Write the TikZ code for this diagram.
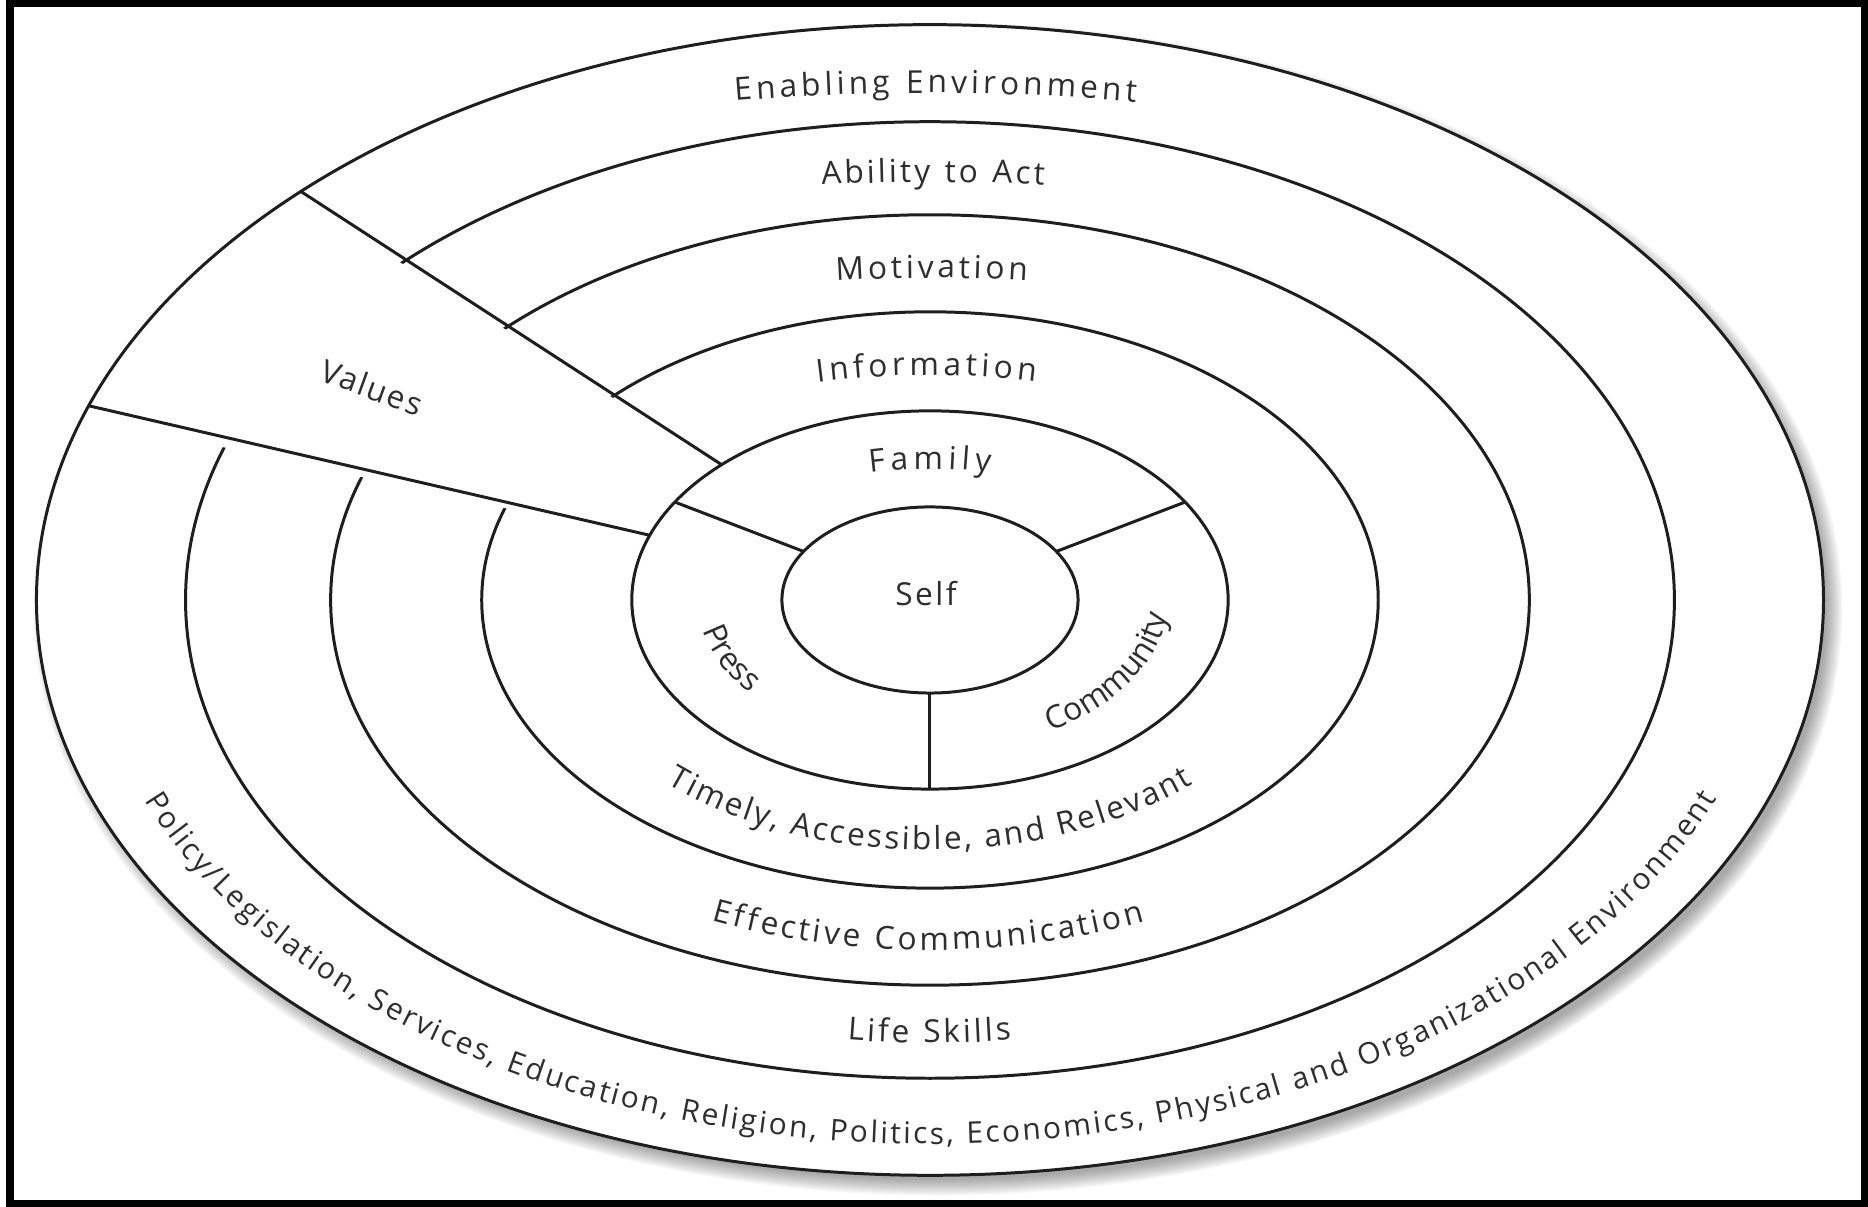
\documentclass[tikz,border=0pt]{standalone}
\usepackage{fontspec}
\setmainfont{Open Sans}
\usetikzlibrary{shapes.geometric,decorations.text}
\definecolor{linec}{HTML}{1E1E1E}
\definecolor{txtc}{HTML}{2E2E2E}
\newcommand\lblfont{\fontsize{9}{10}\selectfont\color{txtc}}
\newcommand\lblfontsm{\fontsize{8.5}{10}\selectfont\color{txtc}}
\begin{document}
\begin{tikzpicture}[x=0.01cm,y=0.01cm,
  ring/.style 2 args={ellipse, draw=linec, line width=0.85pt, inner sep=0pt, outer sep=0pt, minimum width=#1, minimum height=#2},
  sep/.style={draw=linec, line width=0.85pt},
  arclabel/.style={decorate, decoration={text along path, text={|\lblfont|#1}, text align={fit to path}}},
  arclabelsm/.style={decorate, decoration={text along path, text={|\lblfontsm|#1}, text align={fit to path}}},
  arclabelc/.style={decorate, decoration={text along path, text={|\lblfont|#1}, text align=center}},
  plainlbl/.style={text=txtc, inner sep=0pt},
]
\useasboundingbox (-930,-607) rectangle (938,600);
% frame
\draw[line width=2pt, black] (-920,-604) rectangle (935,596.5);
% soft shadow of the outer ellipse
\foreach \k in {0,...,9}
  \fill[black, opacity=0.04] (8,-9) ellipse [x radius={889+\k*1.7}, y radius={571+\k*1.7}];
\fill[white] (0,0) ellipse [x radius=893, y radius=575];
% interrupted rings
\node[ring={14.88cm}{9.56cm}] (abl) at (0,0) {};
\node[ring={11.98cm}{7.70cm}] (mot) at (0,0) {};
\node[ring={8.96cm}{5.76cm}] (inf) at (0,0) {};
% values wedge
\begin{scope}
  \clip (0,0) ellipse [x radius=890, y radius=572];
  \fill[white] (0,0) -- (147.5:1200) -- (167.8:1200) -- cycle;
\end{scope}
% complete rings
\node[ring={17.86cm}{11.5cm}] (env) at (0,0) {};
\node[ring={5.96cm}{3.78cm}] (fam) at (0,0) {};
\node[ring={2.96cm}{1.86cm}] (slf) at (0,0) {};
% radial separators
\draw[sep] (env.147.5) -- (fam.147.5);
\draw[sep] (env.167.8) -- (fam.167.8);
\draw[sep] (fam.159.5) -- (slf.159.5);
\draw[sep] (fam.21) -- (slf.21);
\draw[sep] (fam.south) -- (slf.south);
% top labels
\path[arclabel={Enabling Environment}] (100.2:1100 and 507) arc[start angle=100.2, end angle=79.2, x radius=1100, y radius=507];
\path[arclabel={Ability to Act}] (96.9:900 and 418) arc[start angle=96.9, end angle=82.7, x radius=900, y radius=418];
\path[arclabel={Motivation}] (97.7:700 and 322) arc[start angle=97.7, end angle=82.0, x radius=700, y radius=322];
\path[arclabel={Information}] (104.5:450 and 225) arc[start angle=104.5, end angle=76.4, x radius=450, y radius=225];
\path[arclabel={Family}] (103.9:250 and 131) arc[start angle=103.9, end angle=76.1, x radius=250, y radius=131];
% bottom labels
\path[arclabel={Timely, Accessible, and Relevant}] (227.3:388 and 250) arc[start angle=227.3, end angle=312.7, x radius=388, y radius=250];
\path[arclabel={Effective Communication}] (246.3:543 and 350) arc[start angle=246.3, end angle=293.4, x radius=543, y radius=350];
\path[arclabel={Life Skills}] (263.1:688 and 443) arc[start angle=263.1, end angle=276.8, x radius=688, y radius=443];
\path[arclabelsm={Policy/Legislation, Services, Education, Religion, Politics, Economics, Physical and Organizational Environment}] (201.6:845 and 544) arc[start angle=201.6, end angle=338.4, x radius=845, y radius=544];
% inner ring labels
\path[arclabelc={Press}] (175:232 and 148) arc[start angle=175, end angle=232, x radius=232, y radius=148];
\path[arclabelc={Community}] (293:238 and 152) arc[start angle=293, end angle=365, x radius=238, y radius=152];
% straight labels
\node[plainlbl, font=\fontsize{9}{10}\selectfont\addfontfeature{LetterSpace=8}] (selflbl) at (-4,6) {Self};
\node[plainlbl, rotate=-20, font=\fontsize{9}{10}\selectfont\addfontfeature{LetterSpace=6}] (vallbl) at (-558,213) {Values};
\end{tikzpicture}
\end{document}
